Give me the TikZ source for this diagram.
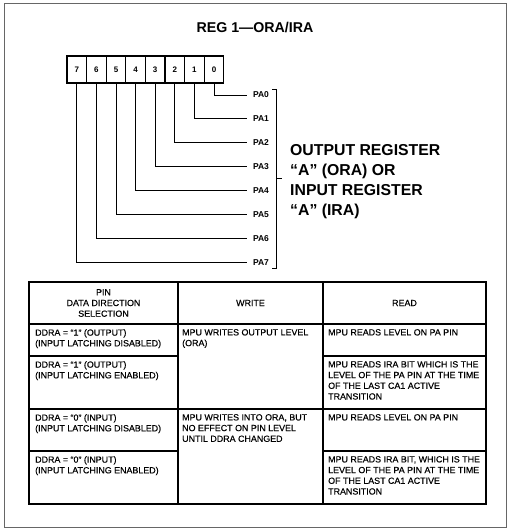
\documentclass[tikz,border=0pt]{standalone}
\usepackage{fontspec}
\setmainfont{Liberation Sans}
\newfontfamily\medfont{Liberation Sans}[FakeBold=0.4]
\begin{document}
\begin{tikzpicture}[x=1pt,y=-1pt,
  framec/.style={draw=black!60,line width=0.9pt},
  titlef/.style={font=\fontsize{14.2}{16}\selectfont\bfseries,inner sep=0pt},
  cell/.style={draw,line width=1.3pt,minimum width=19.6pt,minimum height=27pt,inner sep=0pt,font=\fontsize{8}{9}\selectfont\bfseries},
  palab/.style={anchor=west,inner xsep=6pt,inner ysep=1pt,outer sep=0pt,font=\fontsize{8.5}{10}\selectfont\bfseries},
  conn/.style={line width=0.9pt},
  brk/.style={line width=1pt},
  biglab/.style={anchor=north west,inner sep=0pt,align=left,font=\fontsize{15.8}{20}\selectfont\bfseries},
  tline/.style={line width=1.2pt},
  ttext/.style={anchor=north west,inner sep=0pt,align=left,font=\medfont\fontsize{8.9}{10.7}\selectfont},
  thead/.style={inner sep=0pt,align=center,font=\medfont\fontsize{8.9}{10.7}\selectfont}
]
\useasboundingbox (0,0) rectangle (509,529);
\draw[framec] (4,3) rectangle (506,527);
\node[titlef] (title) at (255,28) {REG 1—ORA/IRA};
% register cells
\foreach \b [count=\i from 0] in {7,6,5,4,3,2,1,0}
  \node[cell] (c\b) at (76.8+19.6*\i,69.5) {\b};
% PA labels and connectors
\foreach \k in {0,...,7}{
  \node[palab] (pa\k) at (247,95+23.9*\k) {PA\k};
  \draw[conn] (c\k.south) |- (pa\k.west);
}
% bracket
\draw[brk] (272,90) -- (276,90) -- (276,268) -- (272,268);
\draw[brk] (276,179) -- (282,179);
\node[biglab] (reglab) at (290,144) {OUTPUT REGISTER\\“A” (ORA) OR\\INPUT REGISTER\\“A” (IRA)};
% table
\def\ra{324}\def\rb{356}\def\rc{409}\def\rd{451}
\draw[tline] (29,282) rectangle (486,504);
\draw[tline] (178,282) -- (178,504);
\draw[tline] (323,282) -- (323,504);
\draw[tline] (29,\ra) -- (486,\ra);
\draw[tline] (29,\rc) -- (486,\rc);
\draw[tline] (29,\rb) -- (178,\rb);
\draw[tline] (323,\rb) -- (486,\rb);
\draw[tline] (29,\rd) -- (178,\rd);
\draw[tline] (323,\rd) -- (486,\rd);
\node[thead] (h1) at (103.5,303) {PIN\\DATA DIRECTION\\SELECTION};
\node[thead] (h2) at (250.5,303) {WRITE};
\node[thead] (h3) at (404.5,303) {READ};
\node[ttext] (r1a) at (35,\ra+5) {DDRA = “1” (OUTPUT)\\(INPUT LATCHING DISABLED)};
\node[ttext] (r1b) at (182,\ra+5) {MPU WRITES OUTPUT LEVEL\\(ORA)};
\node[ttext] (r1c) at (328,\ra+5) {MPU READS LEVEL ON PA PIN};
\node[ttext] (r2a) at (35,\rb+5) {DDRA = “1” (OUTPUT)\\(INPUT LATCHING ENABLED)};
\node[ttext] (r2c) at (328,\rb+5) {MPU READS IRA BIT WHICH IS THE\\LEVEL OF THE PA PIN AT THE TIME\\OF THE LAST CA1 ACTIVE\\TRANSITION};
\node[ttext] (r3a) at (35,\rc+5) {DDRA = “0” (INPUT)\\(INPUT LATCHING DISABLED)};
\node[ttext] (r3b) at (182,\rc+5) {MPU WRITES INTO ORA, BUT\\NO EFFECT ON PIN LEVEL\\UNTIL DDRA CHANGED};
\node[ttext] (r3c) at (328,\rc+5) {MPU READS LEVEL ON PA PIN};
\node[ttext] (r4a) at (35,\rd+5) {DDRA = “0” (INPUT)\\(INPUT LATCHING ENABLED)};
\node[ttext] (r4c) at (328,\rd+5) {MPU READS IRA BIT, WHICH IS THE\\LEVEL OF THE PA PIN AT THE TIME\\OF THE LAST CA1 ACTIVE\\TRANSITION};
\end{tikzpicture}
\end{document}
